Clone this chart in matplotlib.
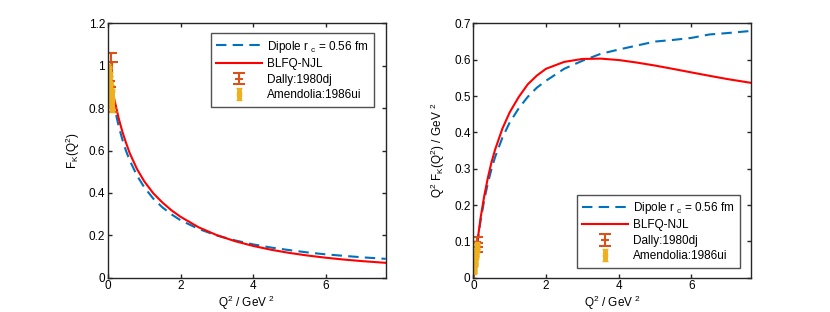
import matplotlib as mpl
mpl.use('Agg')
import numpy as np
import matplotlib.pyplot as plt

mpl.rcParams.update({
    'font.family': ['Liberation Sans', 'DejaVu Sans'],
    'font.size': 8.5,
    'mathtext.default': 'regular',
})

# curves
q2 = [0, 0.05, 0.1, 0.2, 0.3, 0.4, 0.5, 0.6, 0.8, 1.0, 1.25, 1.5, 1.75, 2.0,
      2.5, 3.0, 3.5, 4.0, 4.5, 5.0, 5.5, 6.0, 6.5, 7.0, 7.65]
dipole_F = [1.0, 0.937, 0.882, 0.788, 0.713, 0.651, 0.598, 0.554, 0.482, 0.427,
            0.373, 0.332, 0.299, 0.271, 0.230, 0.199, 0.176, 0.157, 0.142,
            0.130, 0.119, 0.110, 0.103, 0.0962, 0.0888]
blfq_F = [1.0, 0.94, 0.90, 0.825, 0.750, 0.688, 0.636, 0.588, 0.513, 0.455,
          0.398, 0.355, 0.318, 0.2875, 0.2376, 0.2007, 0.1723, 0.1498, 0.1316,
          0.1168, 0.1045, 0.0942, 0.0855, 0.0781, 0.0701]

# data points
dally_q2 = [0.09, 0.11]
dally_F = [0.93, 0.90]
dally_err = [0.13, 0.12]

amen_q2 = [0.015, 0.022, 0.029, 0.036, 0.043, 0.050, 0.057, 0.064, 0.071,
           0.078, 0.085, 0.092, 0.099, 0.106, 0.113]
amen_F = [0.97, 0.96, 0.95, 0.94, 0.93, 0.92, 0.91, 0.90, 0.89, 0.88, 0.87,
          0.86, 0.85, 0.84, 0.83]
amen_err = [0.04, 0.04, 0.04, 0.05, 0.04, 0.05, 0.04, 0.05, 0.04, 0.05, 0.04,
            0.05, 0.05, 0.05, 0.05]

q2 = np.array(q2)
c_blue, c_orange, c_yellow = '#0072BD', '#D95319', '#EDB120'

fig = plt.figure(figsize=(8.3, 3.12), dpi=100)
ax1 = fig.add_axes([0.13, 0.11, 0.3347, 0.815])
ax2 = fig.add_axes([0.5703, 0.11, 0.3347, 0.815])

dip_label = r'Dipole r$_{\,\,c}$ = 0.56 fm'

for ax, scale in [(ax1, False), (ax2, True)]:
    f = (lambda a, x: np.array(a) * np.array(x)) if scale else (lambda a, x: np.array(x))
    ax.plot(q2, f(q2, dipole_F), '--', color=c_blue, lw=1.5, dashes=(5, 3), label=dip_label)
    ax.plot(q2, f(q2, blfq_F), '-', color='red', lw=1.5, label='BLFQ-NJL')
    ax.errorbar(dally_q2, f(dally_q2, dally_F), yerr=f(dally_q2, dally_err),
                fmt='_', color=c_orange, ms=6, mew=1.5, lw=1.5, capsize=4,
                capthick=1.5, label='Dally:1980dj')
    ax.errorbar(amen_q2, f(amen_q2, amen_F), yerr=f(amen_q2, amen_err),
                fmt='s', color=c_yellow, ms=3, lw=3.5, capsize=2, label='Amendolia:1986ui')
    ax.set_xlim(0, 7.65)
    ax.set_xticks([0, 2, 4, 6])
    ax.tick_params(direction='in', top=True, right=True, length=3, width=1, pad=2,
                   colors='#262626', labelcolor='black')
    for s in ax.spines.values():
        s.set_linewidth(1.0)
        s.set_color('#262626')
    ax.set_xlabel('Q$^2$ / GeV $^2$', labelpad=1)

ax1.set_ylim(0, 1.2)
ax1.set_yticks(np.arange(0, 1.21, 0.2))
ax1.set_yticklabels(['0', '0.2', '0.4', '0.6', '0.8', '1', '1.2'])
ax1.set_ylabel('F$_K$(Q$^2$)', labelpad=5)
ax2.set_ylim(0, 0.7)
ax2.set_yticks(np.arange(0, 0.71, 0.1))
ax2.set_yticklabels(['0', '0.1', '0.2', '0.3', '0.4', '0.5', '0.6', '0.7'])
ax2.set_ylabel('Q$^2$ F$_K$(Q$^2$) / GeV $^2$', labelpad=5)

leg_kw = dict(fontsize=8.5, frameon=True, fancybox=False, edgecolor='#262626',
              handlelength=3.9, handletextpad=0.4, borderaxespad=0,
              labelspacing=0.3, borderpad=0.45)
l1 = ax1.legend(loc='upper right', bbox_to_anchor=(0.957, 0.961), **leg_kw)
l2 = ax2.legend(loc='lower right', bbox_to_anchor=(0.96, 0.039), **leg_kw)
for l in (l1, l2):
    l.get_frame().set_linewidth(1.0)

plt.savefig('out.png', dpi=100)
